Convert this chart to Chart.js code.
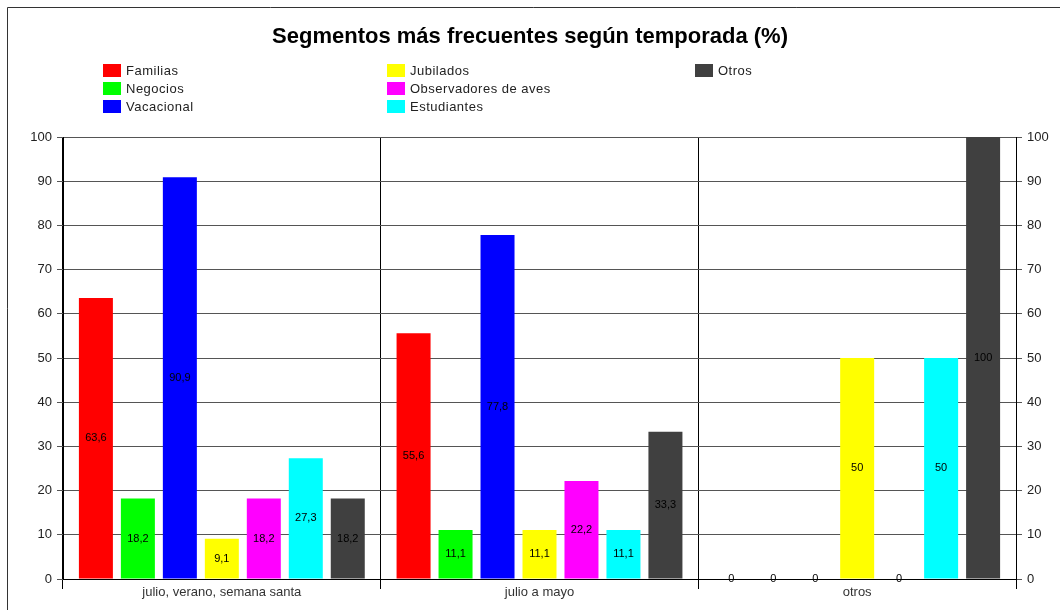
<!DOCTYPE html>
<html>
<head>
<meta charset="utf-8">
<script src="https://cdn.jsdelivr.net/npm/chart.js@4"></script>
<style>
  body { margin: 0; background: #fff; }
  #wrap { position: relative; width: 1060px; height: 610px; }
  #legend { position: absolute; left: 0; top: 0; }
  .item { position: absolute; font: 13px "Liberation Sans", Arial, sans-serif; letter-spacing: 0.5px; color: #222; white-space: nowrap; }
  .item span { display: inline-block; width: 18px; height: 13px; vertical-align: -2px; margin-right: 5px; }
</style>
</head>
<body>
<div id="wrap">
  <canvas id="grafico" width="1060" height="610"></canvas>
  <div id="legend"></div>
</div>
<script>
const categorias = ['julio, verano, semana santa', 'julio a mayo', 'otros'];
const series = ['Familias', 'Negocios', 'Vacacional', 'Jubilados', 'Observadores de aves', 'Estudiantes', 'Otros'];
const colores = ['#ff0000', '#00ff00', '#0000ff', '#ffff00', '#ff00ff', '#00ffff', '#404040'];
const familias = [63.6, 55.6, 0];
const negocios = [18.2, 11.1, 0];
const vacacional = [90.9, 77.8, 0];
const jubilados = [9.1, 11.1, 50];
const observadores = [18.2, 22.2, 0];
const estudiantes = [27.3, 11.1, 50];
const otros = [18.2, 33.3, 100];
const valores = [familias, negocios, vacacional, jubilados, observadores, estudiantes, otros];
const ticksY = [0, 10, 20, 30, 40, 50, 60, 70, 80, 90, 100];

const fuente = '"Liberation Sans", Arial, sans-serif';

// etiquetas de valor en el centro de cada barra
const etiquetas = {
    id: 'etiquetas',
    afterDatasetsDraw(chart) {
        const ctx = chart.ctx;
        ctx.save();
        ctx.font = '11px ' + fuente;
        ctx.fillStyle = '#000';
        ctx.textAlign = 'center';
        ctx.textBaseline = 'middle';
        chart.data.datasets.forEach((ds, i) => {
            chart.getDatasetMeta(i).data.forEach((bar, j) => {
                const txt = String(ds.data[j]).replace('.', ',');
                ctx.fillText(txt, bar.x, (bar.y + bar.base) / 2);
            });
        });
        ctx.restore();
    }
};

// marco superior e izquierdo
const marco = {
    id: 'marco',
    beforeDraw(chart) {
        const ctx = chart.ctx;
        ctx.save();
        ctx.strokeStyle = '#333';
        ctx.lineWidth = 1;
        ctx.beginPath();
        ctx.moveTo(7.5, 610);
        ctx.lineTo(7.5, 7.5);
        ctx.lineTo(1060, 7.5);
        ctx.stroke();
        ctx.restore();
    }
};

const chart = new Chart(document.getElementById('grafico').getContext('2d'), {
    type: 'bar',
    data: {
        labels: categorias,
        datasets: series.map((s, i) => ({
            label: s,
            data: valores[i],
            backgroundColor: colores[i],
            borderWidth: 0,
            barPercentage: 0.81,
            categoryPercentage: 0.925,
            yAxisID: 'y'
        }))
    },
    options: {
        responsive: false,
        animation: false,
        layout: { padding: 0 },
        plugins: {
            legend: { display: false },
            tooltip: { enabled: false },
            title: {
                display: true,
                text: 'Segmentos más frecuentes según temporada (%)',
                color: '#000',
                font: { family: fuente, size: 22, weight: 'bold' },
                padding: { top: 24, bottom: 86.6 }
            }
        },
        scales: {
            x: {
                afterFit: s => { s.height = 31; },
                grid: { color: '#000', tickLength: 10, offset: true },
                border: { color: '#000' },
                ticks: { color: '#333', font: { family: fuente, size: 13 }, padding: -4 }
            },
            y: {
                position: 'left',
                min: 0, max: 100,
                afterBuildTicks: s => { s.ticks = ticksY.map(v => ({ value: v })); },
                afterFit: s => { s.width = 63; },
                grid: { color: '#555', tickLength: 6 },
                border: { color: '#000' },
                ticks: { color: '#222', font: { family: fuente, size: 13 }, padding: 5 }
            },
            y2: {
                position: 'right',
                min: 0, max: 100,
                afterBuildTicks: s => { s.ticks = ticksY.map(v => ({ value: v })); },
                afterFit: s => { s.width = 44; },
                grid: { drawOnChartArea: false, color: '#555', tickLength: 6 },
                border: { color: '#000' },
                ticks: { color: '#222', font: { family: fuente, size: 13 }, padding: 5 }
            }
        }
    },
    plugins: [etiquetas, marco]
});

// leyenda en tres columnas
const colX = [103, 387, 695];
const filaY = [63, 81, 99];
const leyenda = document.getElementById('legend');
series.forEach((s, i) => {
    const d = document.createElement('div');
    d.className = 'item';
    d.style.left = colX[Math.floor(i / 3)] + 'px';
    d.style.top = filaY[i % 3] + 'px';
    d.innerHTML = '<span style="background:' + colores[i] + '"></span>' + s;
    leyenda.appendChild(d);
});
</script>
</body>
</html>
